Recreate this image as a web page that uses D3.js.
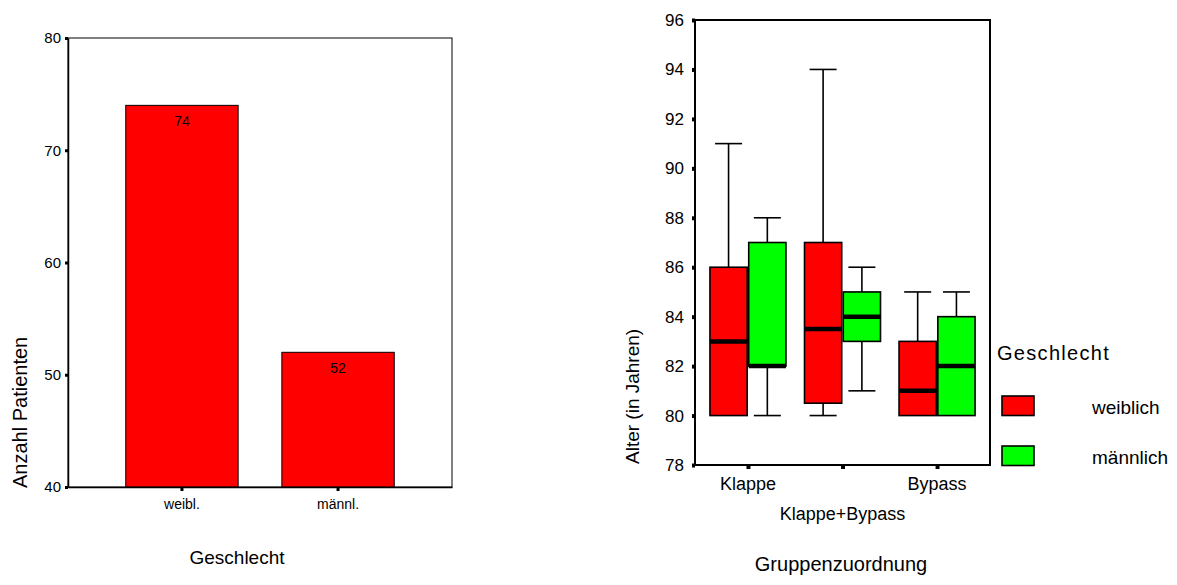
<!DOCTYPE html>
<html>
<head>
<meta charset="utf-8">
<script src="https://cdn.jsdelivr.net/npm/d3@7"></script>
<style>
  html, body { margin: 0; padding: 0; background: #fff; }
  svg { display: block; font-family: "Liberation Sans", Arial, sans-serif; }
</style>
</head>
<body>
<svg id="chart" width="1177" height="585"></svg>
<script>
// ---- Bar chart: patient counts by sex ----
const sexCategories = ["weibl.", "männl."];
const patientCounts = [74, 52];
const countTicks = [40, 50, 60, 70, 80];

// ---- Box plot: age by group and sex ----
const groups = ["Klappe", "Klappe+Bypass", "Bypass"];
const sexes = ["weiblich", "männlich"];
// per group, per sex: [min, q1, median, q3, max]
const ageWeiblich = [
  [80, 80, 83, 86, 91],
  [80, 80.5, 83.5, 87, 94],
  [80, 80, 81, 83, 85]
];
const ageMaennlich = [
  [80, 82, 82, 87, 88],
  [81, 83, 84, 85, 86],
  [80, 80, 82, 84, 85]
];
const ageTicks = [78, 80, 82, 84, 86, 88, 90, 92, 94, 96];

const sexColors = ["#ff0000", "#00ff00"];
const FONT = "Liberation Sans, Arial, sans-serif";

const svg = d3.select("#chart");

// ================= left: bar chart =================
{
  const L = 68, R = 452, T = 38, B = 487;
  const x = d3.scaleBand().domain(sexCategories).range([L, R]).paddingInner(0.28).paddingOuter(0.37);
  const y = d3.scaleLinear().domain([40, 80]).range([B, T]);
  const g = svg.append("g");

  // frame
  g.append("rect").attr("x", L).attr("y", T).attr("width", R - L).attr("height", B - T)
    .attr("fill", "none").attr("stroke", "#000").attr("stroke-width", 1);

  // bars
  g.selectAll("rect.bar").data(patientCounts).join("rect").attr("class", "bar")
    .attr("x", (d, i) => x(sexCategories[i]))
    .attr("y", d => y(d))
    .attr("width", x.bandwidth())
    .attr("height", d => y(40) - y(d))
    .attr("fill", "#ff0000").attr("stroke", "#000").attr("stroke-width", 1);

  g.selectAll("text.val").data(patientCounts).join("text").attr("class", "val")
    .attr("x", (d, i) => x(sexCategories[i]) + x.bandwidth() / 2)
    .attr("y", d => y(d) + 21)
    .attr("text-anchor", "middle").attr("font-size", 14).text(d => d);

  // y axis
  const ya = g.append("g").attr("transform", `translate(${L},0)`)
    .call(d3.axisLeft(y).tickValues(countTicks).tickSize(3).tickSizeOuter(0).tickPadding(4));
  ya.select(".domain").attr("stroke-width", 1.5);
  ya.selectAll(".tick line").attr("stroke-width", 3);
  ya.selectAll(".tick text").attr("font-size", 15).attr("font-family", FONT).attr("fill", "#000");

  // x axis
  const xa = g.append("g").attr("transform", `translate(0,${B})`)
    .call(d3.axisBottom(x).tickSize(4).tickSizeOuter(0).tickPadding(8));
  xa.select(".domain").attr("stroke-width", 1.5);
  xa.selectAll(".tick line").attr("stroke-width", 3);
  xa.selectAll(".tick text").attr("font-size", 14).attr("font-family", FONT).attr("fill", "#000");

  g.append("text").attr("x", 237).attr("y", 564).attr("text-anchor", "middle")
    .attr("font-size", 19).text("Geschlecht");
  g.append("text").attr("transform", "translate(27,488) rotate(-90)")
    .attr("font-size", 20).text("Anzahl Patienten");
}

// ================= right: box plot =================
{
  const L = 695, R = 990, T = 20, B = 465;
  const x = d3.scalePoint().domain(groups).range([L, R]).padding(0.56);
  const y = d3.scaleLinear().domain([78, 96]).range([B, T]);
  const sub = d3.scaleBand().domain(sexes).range([-38, 38]).paddingInner(0.04);
  const g = svg.append("g");

  g.append("rect").attr("x", L).attr("y", T).attr("width", R - L).attr("height", B - T)
    .attr("fill", "none").attr("stroke", "#000").attr("stroke-width", 2);

  const boxes = [];
  groups.forEach((grp, gi) => {
    [ageWeiblich, ageMaennlich].forEach((arr, si) => {
      const [mn, q1, md, q3, mx] = arr[gi];
      boxes.push({ grp, sex: sexes[si], si, mn, q1, md, q3, mx });
    });
  });

  const bw = sub.bandwidth();
  const cap = 13.5;
  const bg = g.selectAll("g.box").data(boxes).join("g").attr("class", "box")
    .attr("transform", d => `translate(${x(d.grp) + sub(d.sex)},0)`);

  // whiskers
  bg.append("line").attr("x1", bw / 2).attr("x2", bw / 2)
    .attr("y1", d => y(d.q3)).attr("y2", d => y(d.mx))
    .attr("stroke", "#000").attr("stroke-width", 1.6);
  bg.append("line").attr("x1", bw / 2).attr("x2", bw / 2)
    .attr("y1", d => y(d.q1)).attr("y2", d => y(d.mn))
    .attr("stroke", "#000").attr("stroke-width", 1.6);
  bg.append("line").attr("x1", bw / 2 - cap).attr("x2", bw / 2 + cap)
    .attr("y1", d => y(d.mx)).attr("y2", d => y(d.mx))
    .attr("stroke", "#000").attr("stroke-width", 1.6);
  bg.filter(d => d.mn < d.q1).append("line").attr("x1", bw / 2 - cap).attr("x2", bw / 2 + cap)
    .attr("y1", d => y(d.mn)).attr("y2", d => y(d.mn))
    .attr("stroke", "#000").attr("stroke-width", 1.6);

  // boxes
  bg.append("rect").attr("x", 0).attr("width", bw)
    .attr("y", d => y(d.q3)).attr("height", d => y(d.q1) - y(d.q3))
    .attr("fill", d => sexColors[d.si]).attr("stroke", "#000").attr("stroke-width", 1.6);

  // medians
  bg.append("line").attr("x1", 0).attr("x2", bw)
    .attr("y1", d => y(d.md)).attr("y2", d => y(d.md))
    .attr("stroke", "#000").attr("stroke-width", 4.5);

  // y axis
  const ya = g.append("g").attr("transform", `translate(${L},0)`)
    .call(d3.axisLeft(y).tickValues(ageTicks).tickSize(3).tickPadding(8));
  ya.select(".domain").remove();
  ya.selectAll(".tick line").attr("stroke-width", 4);
  ya.selectAll(".tick text").attr("font-size", 17).attr("font-family", FONT).attr("fill", "#000");

  // x axis ticks and staggered labels
  const xa = g.append("g").attr("transform", `translate(0,${B})`)
    .call(d3.axisBottom(x).tickSize(4).tickFormat(""));
  xa.select(".domain").remove();
  xa.selectAll(".tick line").attr("stroke-width", 4);
  g.selectAll("text.grp").data(groups).join("text").attr("class", "grp")
    .attr("x", d => x(d)).attr("y", (d, i) => i === 1 ? 520 : 490)
    .attr("text-anchor", "middle").attr("font-size", 18).text(d => d);

  g.append("text").attr("x", 841).attr("y", 571).attr("text-anchor", "middle")
    .attr("font-size", 20).text("Gruppenzuordnung");
  g.append("text").attr("transform", "translate(639,464) rotate(-90)")
    .attr("font-size", 19).text("Alter (in Jahren)");

  // legend
  const lg = g.append("g");
  lg.append("text").attr("x", 997).attr("y", 360).attr("font-size", 20)
    .attr("letter-spacing", 1.3).text("Geschlecht");
  const items = lg.selectAll("g.item").data(sexes).join("g").attr("class", "item")
    .attr("transform", (d, i) => `translate(0,${396 + i * 50})`);
  items.append("rect").attr("x", 1002).attr("y", 0).attr("width", 32).attr("height", 19.5)
    .attr("fill", (d, i) => sexColors[i]).attr("stroke", "#000").attr("stroke-width", 1.6);
  items.append("text").attr("x", 1092).attr("y", 18).attr("font-size", 19).text(d => d);
}
</script>
</body>
</html>
